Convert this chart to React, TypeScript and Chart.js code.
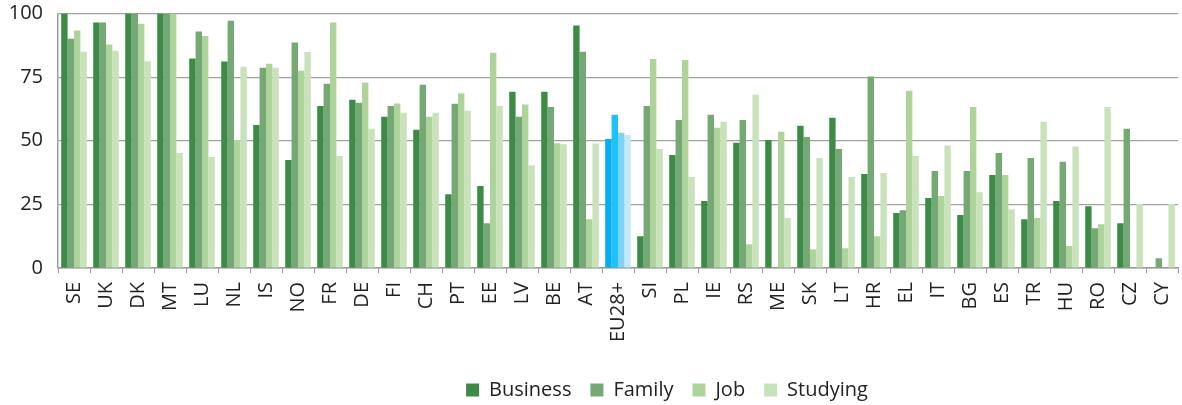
import React, { useEffect, useRef } from 'react';
import { Chart, registerables } from 'chart.js';
Chart.register(...registerables);

const categories = ['SE','UK','DK','MT','LU','NL','IS','NO','FR','DE','FI','CH','PT','EE','LV','BE','AT','EU28+','SI','PL','IE','RS','ME','SK','LT','HR','EL','IT','BG','ES','TR','HU','RO','CZ','CY'];
const business = [100,96.5,100,100,82.3,81.1,56.2,42.4,63.7,66.1,59.4,54.3,29.0,32.2,69.3,69.3,95.3,50.7,12.5,44.4,26.3,49.2,50.3,55.9,59.0,36.9,21.6,27.5,20.8,36.5,19.2,26.3,24.3,17.6,0];
const family = [90.1,96.5,100,100,92.9,97.2,78.7,88.6,72.4,64.9,63.7,72.0,64.5,17.6,59.4,63.3,85.0,60.2,63.7,58.2,60.2,58.2,0,51.5,46.8,75.2,22.7,38.1,38.1,45.2,43.2,41.7,15.6,54.7,3.8];
const job = [93.3,87.8,96,100,91.2,50.3,80.3,77.5,96.5,72.9,64.6,59.4,68.7,84.6,64.2,49.0,19.2,53.1,82.1,81.7,55.1,9.3,53.5,7.4,7.8,12.5,69.6,28.3,63.3,36.5,19.6,8.6,17.2,0,0];
const studying = [85,85.4,81.2,45.2,43.6,79.1,78.7,84.9,44.0,54.7,61.0,61.0,61.8,63.7,40.4,48.6,48.9,52.3,46.8,35.8,57.5,68.1,19.6,43.2,35.8,37.3,44.0,48.1,29.8,23.1,57.5,47.7,63.3,25.1,25.1];
const yTicks = [0, 25, 50, 75, 100];

const seriesNames = ['Business', 'Family', 'Job', 'Studying'];
const greenColors = ['#3d8b46', '#76a874', '#afd49b', '#c8e3bb'];
const blueColors = ['#05aeec', '#1ec2f4', '#7fd4f6', '#c4e8f8'];
const highlight = 'EU28+';

const legendShift = {
  id: 'legendShift',
  afterLayout(chart: any) {
    const lg = chart.legend;
    if (lg) {
      lg.left += 78;
      lg.right += 78;
    }
  },
};

export default function App() {
  const ref = useRef<HTMLCanvasElement>(null);
  useEffect(() => {
    document.body.style.margin = '0';
    const font = { family: "'Open Sans', sans-serif", size: 20 };
    const values = [business, family, job, studying];
    const chart = new Chart(ref.current as HTMLCanvasElement, {
      type: 'bar',
      data: {
        labels: categories,
        datasets: values.map((v, i) => ({
          label: seriesNames[i],
          data: v,
          backgroundColor: categories.map(c => (c === highlight ? blueColors[i] : greenColors[i])),
          borderWidth: 0,
          categoryPercentage: 0.8,
          barPercentage: 1,
        })),
      },
      plugins: [legendShift],
      options: {
        animation: false,
        responsive: false,
        layout: { padding: { top: 13.5, right: 4, left: 0, bottom: -5 } },
        plugins: {
          legend: {
            position: 'bottom',
            labels: {
              boxWidth: 13,
              boxHeight: 13,
              font,
              color: '#222',
              padding: 19,
              generateLabels: () =>
                seriesNames.map((n, i) => ({
                  text: n,
                  fillStyle: greenColors[i],
                  strokeStyle: greenColors[i],
                  lineWidth: 0,
                  hidden: false,
                  datasetIndex: i,
                  fontColor: '#222',
                })),
            },
          },
          tooltip: { enabled: false },
        },
        scales: {
          x: {
            grid: { offset: true, drawOnChartArea: false, drawTicks: true, tickLength: 5, color: '#999', lineWidth: 1 },
            border: { color: '#999', width: 1.5 },
            ticks: { maxRotation: 90, minRotation: 90, autoSkip: false, font, color: '#222', padding: 9 },
            afterFit: (s: any) => {
              s.height = 93;
              s.paddingLeft = 0;
              s.paddingRight = 0;
            },
          },
          y: {
            min: 0,
            max: 100,
            afterBuildTicks: (s: any) => { s.ticks = yTicks.map(v => ({ value: v })); },
            ticks: { font, color: '#222', padding: 1 },
            grid: { color: '#a0a0a0', lineWidth: 1.2, drawTicks: true, tickLength: 14, tickColor: 'rgba(0,0,0,0)' },
            border: { color: '#a0a0a0', width: 1.5 },
            afterFit: (s: any) => { s.width = 58; },
          },
        },
      },
    } as any);
    return () => chart.destroy();
  }, []);
  return <canvas ref={ref} width={1182} height={405} style={{ display: 'block' }} />;
}
